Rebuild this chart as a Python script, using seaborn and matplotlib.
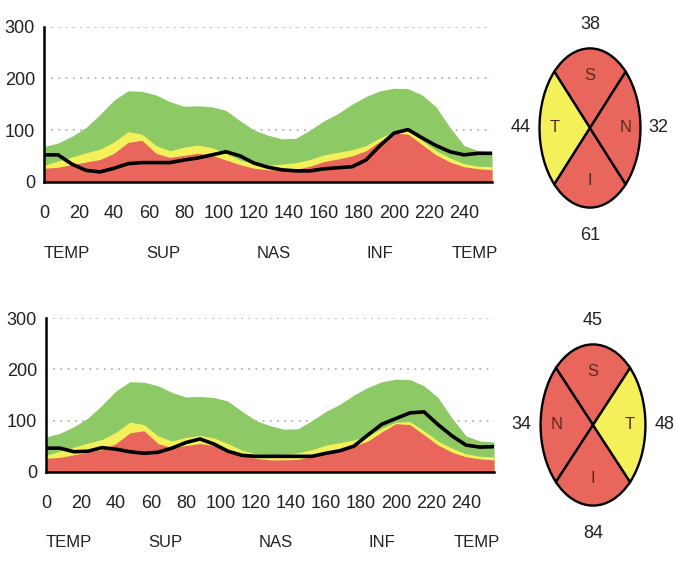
import matplotlib
matplotlib.use("Agg")
import pandas as pd
import seaborn as sns
import matplotlib.pyplot as plt
from matplotlib import font_manager
from matplotlib.ticker import MultipleLocator

sns.set_style("white")
names = {f.name for f in font_manager.fontManager.ttflist}
FONT = "Liberation Sans Narrow" if "Liberation Sans Narrow" in names else "Liberation Sans"
plt.rcParams['font.family'] = [FONT, 'DejaVu Sans']

# TSNIT positions (0..256)
pos = [0, 8, 16, 24, 32, 40, 48, 56, 64, 72, 80, 88, 96, 104, 112, 120, 128,
       136, 144, 152, 160, 168, 176, 184, 192, 200, 208, 216, 224, 232, 240, 248, 256]

# normative bands
norm_95 = [68, 75, 88, 105, 130, 158, 176, 175, 168, 155, 146, 147, 145, 138, 118, 100, 90,
           83, 84, 100, 118, 132, 150, 165, 176, 181, 180, 168, 145, 105, 70, 60, 58]
norm_05 = [32, 40, 48, 56, 63, 77, 97, 92, 70, 60, 67, 71, 66, 55, 42, 35, 32,
           34, 37, 43, 52, 57, 62, 70, 85, 97, 98, 80, 60, 46, 35, 30, 29]
norm_01 = [26, 28, 33, 38, 43, 55, 76, 80, 55, 47, 51, 55, 51, 42, 33, 26, 23,
           23, 24, 30, 39, 44, 50, 60, 78, 94, 92, 72, 52, 38, 29, 25, 23]

# patient thickness
od_thick = [52, 52, 34, 22, 19, 26, 35, 37, 37, 37, 42, 46, 52, 58, 50, 36, 28,
            23, 21, 21, 25, 27, 29, 42, 70, 94, 101, 85, 70, 58, 52, 55, 55]
os_thick = [46, 46, 39, 40, 47, 44, 39, 36, 38, 46, 57, 64, 54, 40, 32, 30, 30,
            30, 30, 30, 36, 41, 50, 72, 93, 104, 115, 117, 92, 70, 52, 48, 49]

xtick_vals = list(range(0, 241, 20))
region_labels = ["TEMP", "SUP", "NAS", "INF", "TEMP"]
region_x = [13, 68, 131, 192, 246]

od_quads = ["S", "T", "I", "N"]
od_vals = [38, 44, 61, 32]
od_flags = ["red", "yellow", "red", "red"]
os_quads = ["S", "N", "I", "T"]
os_vals = [45, 34, 84, 48]
os_flags = ["red", "red", "red", "yellow"]

GREEN = "#8dc964"
YELLOW = "#f3f05a"
RED = "#e8665b"
flag_col = {"red": RED, "yellow": YELLOW}


def tsnit(ax, thick):
    df = pd.DataFrame({"pos": pos, "thick": thick})
    for y in (100, 200, 300):
        ax.axhline(y, color="#b4b4b4", lw=1.3, ls=(0, (1, 3)), zorder=0)
    ax.fill_between(pos, 0, norm_95, color=GREEN, lw=0, zorder=1)
    ax.fill_between(pos, 0, norm_05, color=YELLOW, lw=0, zorder=2)
    ax.fill_between(pos, 0, norm_01, color=RED, lw=0, zorder=3)
    sns.lineplot(data=df, x="pos", y="thick", color="black", lw=2.6, ax=ax, zorder=4)
    ax.set_xlim(0, 256)
    ax.set_ylim(0, 300)
    ax.set_xlabel("")
    ax.set_ylabel("")
    for s in ("top", "right"):
        ax.spines[s].set_visible(False)
    for s in ("left", "bottom"):
        ax.spines[s].set_color("black")
        ax.spines[s].set_linewidth(1.8)
        ax.spines[s].set_zorder(5)
    ax.set_xticks(xtick_vals)
    ax.xaxis.set_minor_locator(MultipleLocator(10))
    ax.set_yticks([0, 100, 200, 300])
    ax.yaxis.set_minor_locator(MultipleLocator(50))
    ax.tick_params(axis="x", which="both", direction="out", length=5, width=1.4,
                   color="black", pad=12, labelsize=13, labelcolor="#222222")
    ax.tick_params(axis="y", which="both", direction="inout", length=5, width=1.4,
                   color="black", pad=4, labelsize=13, labelcolor="#222222")
    for x, lab in zip(region_x, region_labels):
        ax.text(x, -0.46, lab, transform=ax.get_xaxis_transform(), ha="center",
                va="center", fontsize=12, color="#222222")


def quadrant(ax, quads, vals, flags):
    ax.pie([1, 1, 1, 1], colors=[flag_col[f] for f in flags], startangle=45,
           counterclock=True, wedgeprops=dict(edgecolor="black", linewidth=1.7))
    ax.set_aspect("auto")
    ax.set_xlim(-1.03, 1.03)
    ax.set_ylim(-1.03, 1.03)
    ax.axis("off")
    inner = [(0, 0.66), (-0.7, 0), (0, -0.66), (0.7, 0)]
    outer = [(0, 1.3), (-1.37, 0), (0, -1.35), (1.36, 0)]
    for q, v, (ix, iy), (ox, oy) in zip(quads, vals, inner, outer):
        ax.text(ix, iy, q, ha="center", va="center", fontsize=12, color="#5a2a22")
        ax.text(ox, oy, str(v), ha="center", va="center", fontsize=13,
                color="#222222", clip_on=False)


fig = plt.figure(figsize=(6.81, 5.70), dpi=100)
ax1 = fig.add_axes([0.0646, 0.6812, 0.6579, 0.2719])
ax2 = fig.add_axes([0.0675, 0.1725, 0.6579, 0.2691])
ax3 = fig.add_axes([0.7900, 0.6316, 0.1527, 0.2877])
ax4 = fig.add_axes([0.7915, 0.1088, 0.1586, 0.2912])

tsnit(ax1, od_thick)
tsnit(ax2, os_thick)
quadrant(ax3, od_quads, od_vals, od_flags)
quadrant(ax4, os_quads, os_vals, os_flags)

fig.savefig("out.png", dpi=100)
